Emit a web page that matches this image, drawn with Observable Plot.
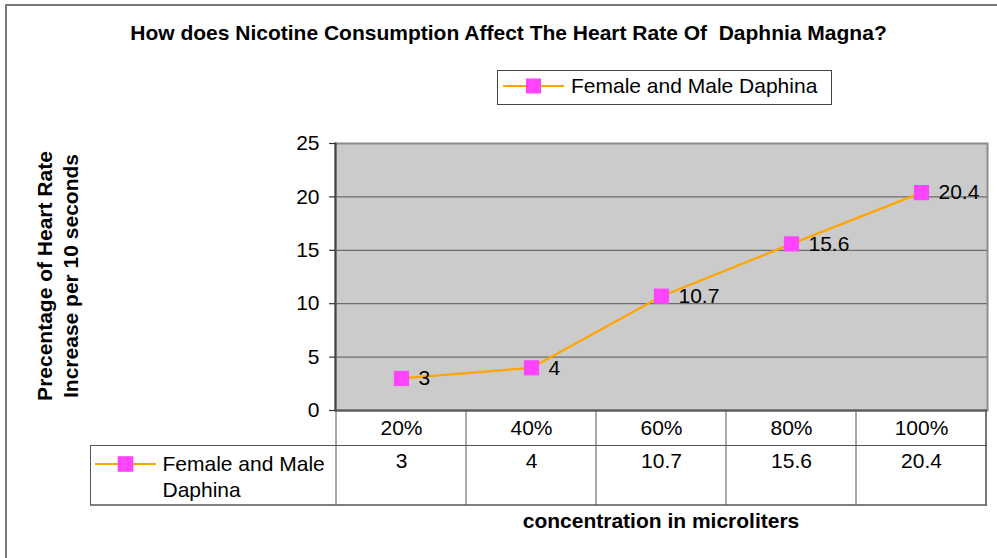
<!DOCTYPE html>
<html>
<head>
<meta charset="utf-8">
<script src="https://cdn.jsdelivr.net/npm/d3@7"></script>
<script src="https://cdn.jsdelivr.net/npm/@observablehq/plot@0.6"></script>
<style>
  html, body { margin: 0; padding: 0; background: #fff; }
  #wrap { position: relative; width: 997px; height: 558px; overflow: hidden; font-family: "Liberation Sans", Arial, sans-serif; }
  #wrap > svg { position: absolute; left: 0; top: 0; }
</style>
</head>
<body>
<div id="wrap"></div>
<script>
// ---- data ----
const categories = ["20%", "40%", "60%", "80%", "100%"];
const values = [3, 4, 10.7, 15.6, 20.4];
const yTicks = [0, 5, 10, 15, 20, 25];
const seriesName = "Female and Male Daphina";
const tableLegendLines = ["Female and Male", "Daphina"];
const titleText = "How does Nicotine Consumption Affect The Heart Rate Of  Daphnia Magna?";
const yTitleLines = ["Precentage of Heart Rate", "Increase per 10 seconds"];
const xTitleText = "concentration in microliters";

const data = categories.map((c, i) => ({cat: c, value: values[i]}));

const W = 997, H = 558;
const mL = 335, mR = 10, mT = 143, mB = 148;
const FONT = "'Liberation Sans', Arial, sans-serif";
const LINE = "#ffa500", MARK = "#ff44ff";

const chart = Plot.plot({
  width: W, height: H,
  marginLeft: mL, marginRight: mR, marginTop: mT, marginBottom: mB,
  style: {fontFamily: FONT, fontSize: "21px", background: "transparent", overflow: "visible", color: "#000"},
  x: {type: "point", domain: categories, padding: 0.5, axis: null, label: null},
  y: {domain: [0, 25], axis: null, label: null},
  marks: [
    Plot.frame({fill: "#cbcbcb", stroke: "none"}),
    Plot.ruleY(yTicks.filter(d => d > 0 && d < 25), {stroke: "#555", strokeWidth: 1}),
    Plot.frame({stroke: "#8c8c8c", strokeWidth: 2}),
    Plot.frame({anchor: "left", stroke: "#444", strokeWidth: 2}),
    Plot.ruleY([0], {stroke: "#555", strokeWidth: 2}),
    Plot.axisY({ticks: yTicks, label: null, tickSize: 6, tickPadding: 10, fontSize: 21, stroke: "#333", fill: "#000", strokeWidth: 1.2}),
    Plot.axisX({label: null, tickSize: 0, tickPadding: 10, fontSize: 21, fill: "#000"}),
    Plot.text(data, {x: "cat", text: d => String(d.value), frameAnchor: "bottom", lineAnchor: "top", dy: 43, fontSize: 21, fill: "#000"}),
    Plot.line(data, {x: "cat", y: "value", stroke: LINE, strokeWidth: 2.2}),
    Plot.dot(data, {x: "cat", y: "value", symbol: "square", r: 8.6, fill: MARK, stroke: "none"}),
    Plot.text(data, {x: "cat", y: "value", text: d => String(d.value), dx: 17, textAnchor: "start", fontSize: 21, fill: "#000"})
  ]
});

const wrap = document.getElementById("wrap");
wrap.appendChild(chart);

// ---- decorations (frame, title, legend, axis titles, data table grid) ----
const xs = chart.scale("x");
const centers = categories.map(c => xs.apply(c));
const step = centers[1] - centers[0];
const bounds = [centers[0] - step / 2, ...centers.map(c => c + step / 2)];
const ys = chart.scale("y");
const y0 = ys.apply(0);

const svg = d3.select(wrap).append("svg")
  .attr("width", W).attr("height", H)
  .style("font-family", FONT).style("overflow", "visible");

// outer frame
svg.append("path").attr("d", `M6,${H + 5}V5H${W + 5}`).attr("fill", "none").attr("stroke", "#7a7a7a").attr("stroke-width", 2);

// title
svg.append("text").attr("x", 508.5).attr("y", 40).attr("text-anchor", "middle")
  .attr("font-weight", "bold").attr("font-size", 21).attr("xml:space", "preserve")
  .style("white-space", "pre").text(titleText);

// legend
const lg = svg.append("g");
lg.append("rect").attr("x", 497.5).attr("y", 70.5).attr("width", 334).attr("height", 34)
  .attr("fill", "#fff").attr("stroke", "#444").attr("stroke-width", 1);
lg.append("line").attr("x1", 503).attr("x2", 564).attr("y1", 86).attr("y2", 86).attr("stroke", LINE).attr("stroke-width", 2.2);
lg.append("rect").attr("x", 526).attr("y", 78.5).attr("width", 15).attr("height", 15).attr("fill", MARK);
lg.append("text").attr("x", 571).attr("y", 93).attr("font-size", 21).text(seriesName);

// y title
yTitleLines.forEach((t, i) => {
  svg.append("text").attr("transform", `translate(${52 + i * 26},276) rotate(-90)`)
    .attr("text-anchor", "middle").attr("font-weight", "bold").attr("font-size", 21).text(t);
});

// x title
svg.append("text").attr("x", (bounds[0] + bounds[bounds.length - 1]) / 2).attr("y", 528)
  .attr("text-anchor", "middle").attr("font-weight", "bold").attr("font-size", 21).text(xTitleText);

// data table grid
const tg = svg.append("g").attr("stroke", "#555").attr("fill", "none");
const tLeft = 90, rowTop = 445.5, rowBot = 505;
tg.append("line").attr("x1", tLeft).attr("x2", bounds[5] + 1).attr("y1", rowTop).attr("y2", rowTop).attr("stroke-width", 1);
tg.append("line").attr("x1", tLeft).attr("x2", bounds[5] + 1).attr("y1", rowBot).attr("y2", rowBot).attr("stroke-width", 1.6);
tg.append("line").attr("x1", tLeft + 0.5).attr("x2", tLeft + 0.5).attr("y1", rowTop).attr("y2", rowBot).attr("stroke-width", 1);
bounds.forEach((b, i) => {
  tg.append("line").attr("x1", b).attr("x2", b).attr("y1", y0).attr("y2", rowBot)
    .attr("stroke-width", i === bounds.length - 1 ? 1.6 : 1);
});

// table legend cell
svg.append("line").attr("x1", 95).attr("x2", 156).attr("y1", 464).attr("y2", 464).attr("stroke", LINE).attr("stroke-width", 2.2);
svg.append("rect").attr("x", 117.7).attr("y", 456.2).attr("width", 15.6).attr("height", 15.6).attr("fill", MARK);
tableLegendLines.forEach((t, i) => {
  svg.append("text").attr("x", 162.5).attr("y", 471 + i * 26).attr("font-size", 21).text(t);
});
</script>
</body>
</html>
